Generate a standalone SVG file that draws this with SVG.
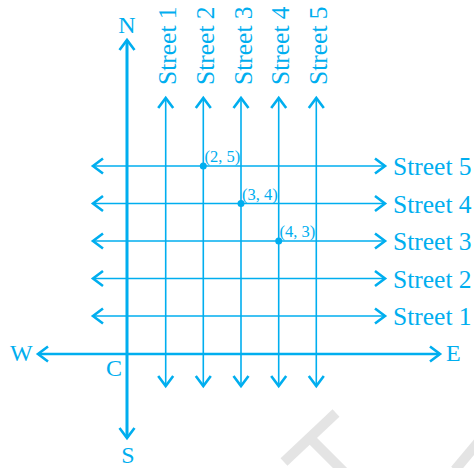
<svg xmlns="http://www.w3.org/2000/svg" width="474" height="468" viewBox="0 0 474 468">
<style>
.ax{stroke:#00AEEF;stroke-width:2.6;fill:none}
.st{stroke:#00AEEF;stroke-width:1.6;fill:none}
.t{fill:#00AEEF;font-family:"Liberation Serif","Times New Roman",serif}
.lbl{font-size:25.5px}
.cd{font-size:16.5px}
.dir{font-size:24px}
.wm{stroke:#e4e4e4;stroke-width:10;fill:none}
</style>
<defs>
<marker id="ah" markerUnits="userSpaceOnUse" viewBox="-14 -10 16 20" markerWidth="16" markerHeight="20" refX="0" refY="0" orient="auto-start-reverse" overflow="visible">
<path d="M-10,-7.5 L0,0 L-10,7.5" fill="none" stroke="#00AEEF" stroke-width="2.6" stroke-linejoin="miter"/>
</marker>
</defs>
<g id="watermark">
<line class="wm" x1="284" y1="462" x2="336" y2="413"/>
<line class="wm" x1="310" y1="438" x2="345" y2="473"/>
<line class="wm" x1="480" y1="440" x2="455" y2="470"/>
</g>
<g id="connectors">
<line class="ax" x1="127" y1="438" x2="127" y2="40" marker-end="url(#ah)"/>
<line class="ax" x1="127" y1="40" x2="127" y2="438" marker-end="url(#ah)"/>
<line class="ax" x1="38" y1="354" x2="440" y2="354" marker-start="url(#ah)" marker-end="url(#ah)"/>
<line class="st" x1="165.7" y1="98" x2="165.7" y2="386" marker-start="url(#ah)" marker-end="url(#ah)"/>
<line class="st" x1="203.3" y1="98" x2="203.3" y2="386" marker-start="url(#ah)" marker-end="url(#ah)"/>
<line class="st" x1="241" y1="98" x2="241" y2="386" marker-start="url(#ah)" marker-end="url(#ah)"/>
<line class="st" x1="278.7" y1="98" x2="278.7" y2="386" marker-start="url(#ah)" marker-end="url(#ah)"/>
<line class="st" x1="316.3" y1="98" x2="316.3" y2="386" marker-start="url(#ah)" marker-end="url(#ah)"/>
<line class="st" x1="93" y1="166" x2="385" y2="166" marker-start="url(#ah)" marker-end="url(#ah)"/>
<line class="st" x1="93" y1="203.5" x2="385" y2="203.5" marker-start="url(#ah)" marker-end="url(#ah)"/>
<line class="st" x1="93" y1="241" x2="385" y2="241" marker-start="url(#ah)" marker-end="url(#ah)"/>
<line class="st" x1="93" y1="278.5" x2="385" y2="278.5" marker-start="url(#ah)" marker-end="url(#ah)"/>
<line class="st" x1="93" y1="316" x2="385" y2="316" marker-start="url(#ah)" marker-end="url(#ah)"/>
</g>
<g id="compass">
<text class="t dir" x="127" y="33" text-anchor="middle" font-size="22">N</text>
<text class="t dir" x="128" y="462.5" text-anchor="middle">S</text>
<text class="t dir" x="10" y="360.5">W</text>
<text class="t dir" x="446" y="360.5">E</text>
<text class="t dir" x="106" y="376">C</text>
</g>
<g id="vstreets">
<text class="t lbl" transform="translate(176.2,85) rotate(-90)">Street 1</text>
<text class="t lbl" transform="translate(213.8,85) rotate(-90)">Street 2</text>
<text class="t lbl" transform="translate(251.5,85) rotate(-90)">Street 3</text>
<text class="t lbl" transform="translate(289.2,85) rotate(-90)">Street 4</text>
<text class="t lbl" transform="translate(326.8,85) rotate(-90)">Street 5</text>
</g>
<g id="hstreets">
<text class="t lbl" x="393" y="175">Street 5</text>
<text class="t lbl" x="393" y="212.5">Street 4</text>
<text class="t lbl" x="393" y="250">Street 3</text>
<text class="t lbl" x="393" y="287.5">Street 2</text>
<text class="t lbl" x="393" y="325">Street 1</text>
</g>
<g id="p25"><circle cx="203.3" cy="166" r="3.5" fill="#00AEEF"/><text class="t cd" x="204.5" y="162">(2, 5)</text></g>
<g id="p34"><circle cx="241" cy="203.5" r="3.5" fill="#00AEEF"/><text class="t cd" x="242" y="199.5">(3, 4)</text></g>
<g id="p43"><circle cx="278.7" cy="241" r="3.5" fill="#00AEEF"/><text class="t cd" x="279.5" y="237">(4, 3)</text></g>
</svg>
